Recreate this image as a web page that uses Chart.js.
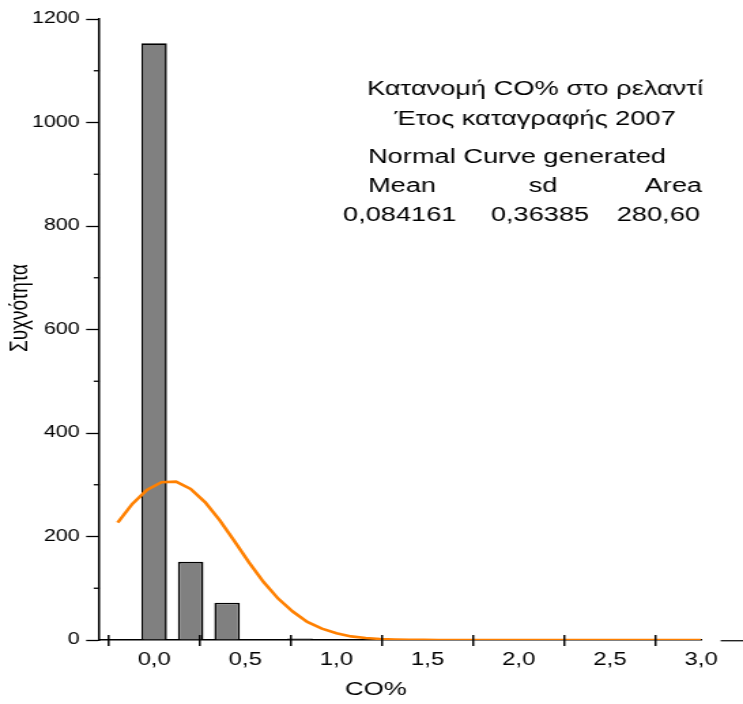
<!DOCTYPE html>
<html>
<head>
<meta charset="utf-8">
<script src="https://cdn.jsdelivr.net/npm/chart.js@4/dist/chart.umd.min.js"></script>
<style>
html,body{margin:0;padding:0;background:#fff;overflow:hidden;width:743px;height:704px;}
#wrap{position:absolute;left:0;top:0;width:546px;height:704px;transform:scaleX(1.3608);transform-origin:0 0;}
</style>
</head>
<body>
<div id="wrap"><canvas id="c"></canvas></div>
<script>
// ---- data ----
const binCenters = [0.0, 0.2, 0.4, 0.8];
const binCounts  = [1153, 151, 72, 3];

const curveX = [-0.2, -0.12, -0.04, 0.04, 0.12, 0.2, 0.28, 0.36, 0.44, 0.52, 0.6, 0.68, 0.76, 0.84, 0.92, 1.0,
  1.08, 1.16, 1.24, 1.32, 1.4, 1.48, 1.56, 1.64, 1.72, 1.8, 1.88, 1.96, 2.04, 2.12, 2.2, 2.28, 2.36, 2.44,
  2.52, 2.6, 2.68, 2.76, 2.84, 2.92, 3.0];
const curveY = [227, 263, 290, 305, 306, 292, 266, 231, 191, 150, 112, 80, 55, 35, 22, 13,
  7, 4, 2, 1, 0.4, 0.2, 0, 0, 0, 0, 0, 0, 0, 0, 0, 0, 0, 0,
  0, 0, 0, 0, 0, 0, 0];

const xLabelValues = [0, 0.5, 1.0, 1.5, 2.0, 2.5, 3.0];
const xLabels      = ['0,0', '0,5', '1,0', '1,5', '2,0', '2,5', '3,0'];
const xTickMarks   = [-0.25, 0.25, 0.75, 1.25, 1.75, 2.25, 2.75];
const yMinorTicks  = [100, 300, 500, 700, 900, 1100];

const titleLines = ['Κατανομή CO% στο ρελαντί', 'Έτος καταγραφής 2007'];
const fitHeader  = 'Normal Curve generated';
const fitNames   = ['Mean', 'sd', 'Area'];
const fitValues  = ['0,084161', '0,36385', '280,60'];
const xTitle = 'CO%';
const yTitle = 'Συχνότητα';

// ---- rendering ----
const FONT = '"Liberation Sans", Arial, sans-serif';
const S = 1.3608; // horizontal stretch of the reference

const deco = {
  id: 'deco',
  afterDraw(chart) {
    const {ctx, chartArea: a, scales: {x, y}} = chart;
    const y0 = y.getPixelForValue(0);
    ctx.save();
    ctx.strokeStyle = '#000';
    // x tick marks crossing the axis
    ctx.lineWidth = 1.5;
    xTickMarks.forEach(v => {
      const px = x.getPixelForValue(v);
      ctx.beginPath(); ctx.moveTo(px, y0 - 5); ctx.lineTo(px, y0 + 6); ctx.stroke();
    });
    // y minor ticks
    ctx.lineWidth = 1.3;
    yMinorTicks.forEach(v => {
      const py = y.getPixelForValue(v);
      ctx.beginPath(); ctx.moveTo(a.left - 4.2, py); ctx.lineTo(a.left, py); ctx.stroke();
    });
    // stray segment right of the axis
    ctx.strokeStyle = '#222'; ctx.lineWidth = 1.4;
    ctx.beginPath(); ctx.moveTo(a.right + 14.4, y0 + 0.7); ctx.lineTo(chart.width, y0 + 0.7); ctx.stroke();

    ctx.fillStyle = '#000';
    ctx.textBaseline = 'middle';
    // axis titles
    ctx.font = '19px ' + FONT;
    ctx.textAlign = 'center';
    ctx.fillText(xTitle, 376 / S, 690);
    ctx.save();
    ctx.translate(20 / S, 308);
    ctx.rotate(-Math.PI / 2);
    ctx.font = '19px ' + FONT;
    ctx.fillText(yTitle, 0, 0);
    ctx.restore();

    // annotation block
    ctx.font = '20px ' + FONT;
    ctx.textAlign = 'center';
    ctx.fillText(titleLines[0], 535 / S, 89);
    ctx.fillText(titleLines[1], 535 / S, 119);
    ctx.textAlign = 'left';
    ctx.fillText(fitHeader, 368 / S, 157);
    ctx.fillText(fitNames[0], 368 / S, 186);
    ctx.textAlign = 'center';
    ctx.fillText(fitNames[1], 543 / S, 186);
    ctx.textAlign = 'right';
    ctx.fillText(fitNames[2], 702 / S, 186);
    ctx.textAlign = 'left';
    ctx.fillText(fitValues[0], 343 / S, 215);
    ctx.textAlign = 'center';
    ctx.fillText(fitValues[1], 540 / S, 215);
    ctx.textAlign = 'right';
    ctx.fillText(fitValues[2], 700 / S, 215);
    ctx.restore();
  }
};

new Chart(document.getElementById('c'), {
  type: 'bar',
  data: {
    datasets: [
      {
        type: 'line',
        data: curveX.map((v, i) => ({x: v, y: curveY[i]})),
        borderColor: '#FF8000',
        borderWidth: 2.6,
        pointRadius: 0,
        tension: 0,
        fill: false,
        order: 0
      },
      {
        type: 'bar',
        data: binCenters.map((v, i) => ({x: v, y: binCounts[i]})),
        backgroundColor: '#808080',
        borderColor: '#000',
        borderWidth: 1.6,
        barPercentage: 0.7,
        categoryPercentage: 1.0,
        order: 1
      }
    ]
  },
  options: {
    responsive: true,
    maintainAspectRatio: false,
    animation: false,
    events: [],
    layout: {padding: {top: 19, right: 30.8, bottom: 0, left: 0}},
    plugins: {legend: {display: false}, tooltip: {enabled: false}, title: {display: false}},
    scales: {
      x: {
        type: 'linear',
        min: -0.3,
        max: 3.0,
        offset: false,
        afterBuildTicks: s => { s.ticks = xLabelValues.map(v => ({value: v})); },
        afterFit: s => { s.height = 64; },
        ticks: {
          callback: (v, i) => xLabels[i],
          autoSkip: false,
          maxRotation: 0,
          color: '#000',
          padding: 5,
          font: {family: FONT, size: 17.5}
        },
        grid: {display: true, drawOnChartArea: false, offset: false, tickLength: 5, tickColor: 'rgba(0,0,0,0)'},
        border: {display: true, color: '#000', width: 1.6}
      },
      y: {
        type: 'linear',
        min: 0,
        max: 1200,
        afterFit: s => { s.width = 73.1; },
        ticks: {
          stepSize: 200,
          callback: v => String(v),
          color: '#000',
          padding: 4.7,
          font: {family: FONT, size: 15.8}
        },
        grid: {display: true, drawOnChartArea: false, tickLength: 9.8, tickColor: '#000', tickWidth: 1.3},
        border: {display: true, color: '#000', width: 1.5}
      }
    }
  },
  plugins: [deco]
});
</script>
</body>
</html>
